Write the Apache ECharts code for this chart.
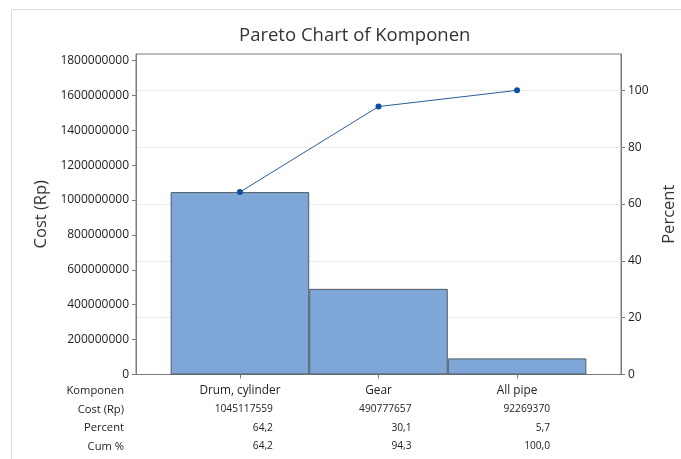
<!DOCTYPE html>
<html>
<head>
<meta charset="utf-8">
<script src="https://cdn.jsdelivr.net/npm/echarts@6/dist/echarts.min.js"></script>
<style>
html,body{margin:0;padding:0;background:#fff;}
#c{width:681px;height:459px;}
</style>
</head>
<body>
<div id="c"></div>
<script>
// ---- data ----
const categories = ['Drum, cylinder', 'Gear', 'All pipe'];
const costs = [1045117559, 490777657, 92269370];
const percents = [64.2, 30.1, 5.7];
const cumPercents = [64.2, 94.3, 100.0];
const costTicks = [0, 200000000, 400000000, 600000000, 800000000, 1000000000, 1200000000, 1400000000, 1600000000, 1800000000];
const percentTicks = [0, 20, 40, 60, 80, 100];
const rowHeaders = ['Komponen', 'Cost (Rp)', 'Percent', 'Cum %'];

const FONT = '"Open Sans", "Noto Sans", sans-serif';
const catIdx = categories.map((_, i) => i);
const fmtPct = v => v.toFixed(1).replace('.', ',');

const chart = echarts.init(document.getElementById('c'), null, {renderer: 'canvas'});

function tableAxis(offset, name, getText, rightAlign, fontSize) {
  return {
    type: 'value', position: 'bottom', offset: offset,
    min: -0.75, max: 2.75,
    axisLine: {show: false, onZero: false}, axisTick: {show: false}, splitLine: {show: false},
    axisLabel: {
      show: true, customValues: catIdx, margin: 0, verticalAlign: 'middle', align: 'center',
      fontFamily: FONT, fontSize: fontSize, color: '#222',
      formatter: v => rightAlign ? '{r|' + getText(Math.round(v)) + '}' : getText(Math.round(v)),
      rich: {r: {width: 66, align: 'right', fontFamily: FONT, fontSize: fontSize, color: '#222'}}
    },
    name: name, nameLocation: 'start', nameGap: 12,
    nameTextStyle: {fontFamily: FONT, fontSize: 11.2, color: '#222', align: 'right', verticalAlign: 'middle'}
  };
}

const option = {
  backgroundColor: '#ffffff',
  animation: false,
  title: {
    text: 'Pareto Chart of Komponen',
    left: 234, top: 21,
    textStyle: {fontFamily: FONT, fontSize: 18.5, fontWeight: 'normal', color: '#333'}
  },
  graphic: [{
    type: 'rect', silent: true, z: -10,
    shape: {x: 11.5, y: 9.5, width: 700, height: 500},
    style: {fill: 'none', stroke: '#dddddd', lineWidth: 1}
  }],
  grid: {
    left: 136, right: 60, top: 54, bottom: 84.5,
    show: true, borderColor: '#7a7a7a', borderWidth: 1, backgroundColor: 'transparent',
    containLabel: false, outerBoundsMode: 'none'
  },
  xAxis: [
    {
      type: 'value', position: 'bottom', min: -0.75, max: 2.75,
      axisLine: {show: true, onZero: false, lineStyle: {color: '#7a7a7a', width: 1}},
      axisTick: {show: true, customValues: catIdx, length: 4, lineStyle: {color: '#7a7a7a'}},
      axisLabel: {show: false},
      splitLine: {show: false}
    },
    tableAxis(16.5, rowHeaders[0], i => categories[i], false, 11.8),
    tableAxis(35, rowHeaders[1], i => String(costs[i]), true, 10.2),
    tableAxis(53.5, rowHeaders[2], i => fmtPct(percents[i]), true, 10.2),
    tableAxis(72, rowHeaders[3], i => fmtPct(cumPercents[i]), true, 10.2)
  ],
  yAxis: [
    {
      type: 'value', position: 'left', min: 0, max: 1836600000,
      axisLine: {show: true, onZero: false, lineStyle: {color: '#7a7a7a'}},
      axisTick: {show: true, customValues: costTicks, length: 4, lineStyle: {color: '#7a7a7a'}},
      axisLabel: {customValues: costTicks, margin: 7, fontFamily: FONT, fontSize: 12, color: '#222', formatter: v => String(v)},
      splitLine: {show: false},
      name: 'Cost (Rp)', nameLocation: 'middle', nameGap: 80,
      nameTextStyle: {fontFamily: FONT, fontSize: 16.5, color: '#333'}
    },
    {
      type: 'value', position: 'right', min: 0, max: 112.8, interval: 20,
      axisLine: {show: true, onZero: false, lineStyle: {color: '#7a7a7a'}},
      axisTick: {show: true, customValues: percentTicks, length: 4, lineStyle: {color: '#7a7a7a'}},
      axisLabel: {customValues: percentTicks, margin: 7, fontFamily: FONT, fontSize: 12, color: '#222'},
      splitLine: {show: true, lineStyle: {color: '#ececec', width: 1}},
      name: 'Percent', nameLocation: 'middle', nameGap: 40,
      nameTextStyle: {fontFamily: FONT, fontSize: 16.5, color: '#333'}
    }
  ],
  series: [
    {
      type: 'bar', xAxisIndex: 0, yAxisIndex: 0,
      data: costs.map((v, i) => [i, v]),
      barWidth: '100%',
      itemStyle: {color: '#7ea7d8', borderColor: '#505a66', borderWidth: 1},
      z: 2
    },
    {
      type: 'line', xAxisIndex: 0, yAxisIndex: 1,
      data: cumPercents.map((v, i) => [i, v]),
      symbol: 'circle', symbolSize: 6,
      lineStyle: {color: '#2c5f99', width: 1},
      itemStyle: {color: '#0d4f9e'},
      z: 5
    }
  ]
};
chart.setOption(option);
</script>
</body>
</html>
